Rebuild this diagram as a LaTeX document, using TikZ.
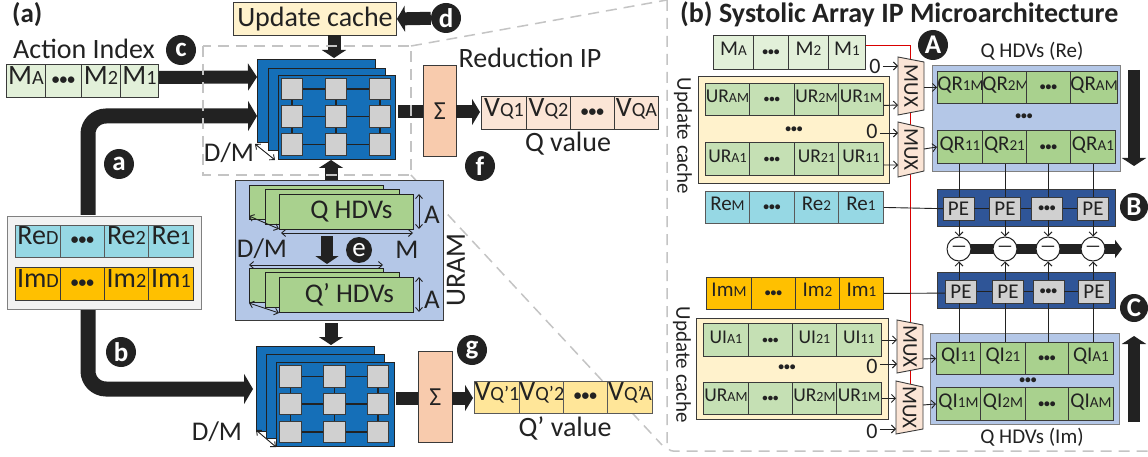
\documentclass[tikz,border=0pt]{standalone}
\usepackage{fontspec}
\usepackage{graphicx}
\setmainfont{Carlito}
\usetikzlibrary{arrows.meta,calc}
\definecolor{ink}{HTML}{222222}
\definecolor{edge}{HTML}{3A3A3A}
\definecolor{dashc}{HTML}{C4C4C4}
\definecolor{lgreen}{HTML}{E2F0D9}
\definecolor{mgreen}{HTML}{C5E0B4}
\definecolor{dgreen}{HTML}{A9D18E}
\definecolor{cream}{HTML}{FFF2CC}
\definecolor{peach}{HTML}{F8CBAD}
\definecolor{lpeach}{HTML}{FBE5D6}
\definecolor{cyanc}{HTML}{96D8E4}
\definecolor{amber}{HTML}{FFC000}
\definecolor{gold}{HTML}{FFE699}
\definecolor{periw}{HTML}{B4C7E7}
\definecolor{saablue}{HTML}{156FB8}
\definecolor{navy}{HTML}{2F5597}
\definecolor{pegray}{HTML}{D0D0D0}
\newcommand\sm[1]{\scalebox{0.72}{#1}}
\newcommand\fs[1]{\fontsize{#1}{#1}\selectfont}
\newcommand\dts{\scalebox{0.55}{\textbf{•••}}}
\tikzset{
  x=1pt,y=-1pt,
  cell/.style={draw=edge,line width=0.9,inner sep=0pt,text=ink,anchor=north west,text height=0.62em,text depth=0pt},
  big/.style={cell,font=\fs{28}},
  small/.style={cell,font=\fs{21}},
  updrow/.style={cell,font=\fs{19.5},fill=mgreen},
  plain/.style={inner sep=0pt,text=ink},
  badge/.style={circle,fill=ink,text=white,inner sep=0pt,minimum size=30,font=\fs{27}\bfseries},
  fat/.style={draw=ink,line width=13,-{Triangle[length=9pt,width=27pt]}},
  wide/.style={draw=ink,line width=15,rounded corners=18,-{Triangle[length=9pt,width=30pt]}},
  link/.style={draw=ink,line width=0.9},
  thin/.style={link,-{Straight Barb[length=4pt,width=8pt]}},
  both/.style={link,{Straight Barb[length=4pt,width=7pt]}-{Straight Barb[length=4pt,width=7pt]}},
  zoomline/.style={draw=dashc,line width=1.5,dash pattern=on 11pt off 7pt},
  pebox/.style={draw=edge,line width=0.9,fill=pegray,inner sep=0pt,text=ink,font=\fs{21},minimum width=31,minimum height=23},
  sq/.style={draw=edge,line width=0.9,fill=pegray,inner sep=0pt,minimum size=21.5},
  saa/.style={draw=ink,line width=0.9,fill=saablue},
  hdv/.style={draw=ink,line width=0.9,fill=dgreen},
  muxs/.style={draw=edge,line width=0.9,fill=lpeach},
  minusc/.style={circle,draw=ink,line width=1,fill=white,minimum size=24,inner sep=0pt,font=\fs{17}},
}
\newcommand\cellrow[5]{%
  \foreach \xa/\xb/\txt [count=\ci] in {#5}{%
    \node[#4,minimum width={\xb-\xa},minimum height={#3-#2}] (#1\ci) at (\xa,#2) {\txt};
  }%
}
% prefix, three x centres, three y centres
\newcommand\sqgrid[7]{%
  \foreach \yy [count=\r] in {#5,#6,#7}{%
    \foreach \xx [count=\c] in {#2,#3,#4}{%
      \node[sq] (#1\r\c) at (\xx,\yy) {};
    }%
  }%
  \foreach \r in {1,2,3}{%
    \draw[link,line width=1.2] (#1\r1) -- (#1\r2) -- (#1\r3);
  }%
  \foreach \c in {1,2,3}{%
    \draw[link,line width=1.2] (#11\c) -- (#12\c) -- (#13\c);
  }%
}
\newcommand\muxpoly[7]{%
  \draw[muxs] (#2,#3) -- (#4,#5) -- (#4,#6) -- (#2,#7) -- cycle;
  \node[plain,rotate=-90,font=\fs{21}] (#1) at ({(#2+#4)/2},{(#3+#7)/2}) {MUX};
  \coordinate (#1w) at (#2,0);
  \coordinate (#1e) at (#4,0);
}
\begin{document}
\begin{tikzpicture}
\useasboundingbox (0,0) rectangle (1148,457);
\fill[white] (0,0) rectangle (1148,457);

% ---------- zoom lines and panel (b) frame
\draw[zoomline] (411,46) -- (667,0);
\draw[zoomline] (411,175) -- (662,445);
\draw[zoomline,rounded corners=6] (667,0) -- (667,451) -- (1148,451);

% ---------- panel titles
\node[plain,anchor=west,font=\fs{27}\bfseries] (ta) at (12,15) {(a)};
\node[plain,anchor=west,font=\fs{28}\bfseries] (tb) at (680,14) {(b) Systolic Array IP Microarchitecture};

% ---------- panel (a): inputs
\node[plain,font=\fs{28}] (actlab) at (84,49) {Action Index};
\cellrow{mm}{64}{97}{big,fill=lgreen}{6/45/M\sm{A},45/81/\dts,81/120/M\sm{2},120/158/M\sm{1}}
\node[draw=gray,line width=1,fill=black!5,minimum width=194,minimum height=93,inner sep=0,anchor=north west] (data) at (7,216) {};
\cellrow{re}{225}{257}{big,fill=cyanc,draw=gray!70!black}{15/60/Re\sm{D},60/104/\dts,104/148/Re\sm{2},148/193/Re\sm{1}}
\cellrow{im}{267}{300}{big,fill=amber}{15/60/Im\sm{D},60/104/\dts,104/148/Im\sm{2},148/193/Im\sm{1}}

% ---------- panel (a): top cache
\node[draw=edge,line width=0.9,fill=cream,minimum width=163,minimum height=33,inner sep=0,anchor=north west,font=\fs{28},text=ink] (ucache) at (233,2) {Update cache};
\node[badge] (bd) at (446,18) {d};
\node[badge] (bc) at (181,50) {c};
\node[badge] (ba) at (119,164) {a};
\node[badge] (bb) at (121,352) {b};
\node[badge] (bf) at (480,166) {f};
\node[badge] (bg) at (472,350) {g};

% ---------- reduction boxes
\node[draw=edge,line width=0.9,fill=peach,minimum width=33,minimum height=91,inner sep=0,anchor=north west,font=\fs{26},text=ink] (sig1) at (423,65) {Σ};
\node[draw=edge,line width=0.9,fill=peach,minimum width=34,minimum height=91,inner sep=0,anchor=north west,font=\fs{26},text=ink] (sig2) at (418,351) {Σ};
\node[plain,font=\fs{28}] (redlab) at (530,58) {Reduction IP};
\cellrow{vq}{96}{129}{big,fill=lpeach}{481/526/V\sm{Q1},526/570/V\sm{Q2},570/614/\dts,614/658/V\sm{QA}}
\node[plain,font=\fs{28}] (qvlab) at (568,144) {Q value};
\cellrow{vp}{381}{413}{big,fill=gold,draw=gray!70!black}{474/519/V\sm{Q’1},519/563/V\sm{Q’2},563/607/\dts,607/652/V\sm{Q’A}}
\node[plain,font=\fs{28}] (qplab) at (565,428) {Q’ value};

% ---------- URAM
\node[draw=edge,line width=0.9,fill=periw,minimum width=208,minimum height=140,inner sep=0,anchor=north west] (uram) at (235,180) {};
\draw[hdv] (249,185) rectangle (383,219);
\draw[hdv] (265,189) rectangle (399,224);
\node[hdv,minimum width=134,minimum height=35,inner sep=0,anchor=north west,font=\fs{27},text=ink] (qh) at (279,194) {\hspace*{10pt}Q HDVs};
\draw[hdv] (249,268) rectangle (383,302);
\draw[hdv] (265,272) rectangle (399,307);
\node[hdv,minimum width=134,minimum height=35,inner sep=0,anchor=north west,font=\fs{27},text=ink] (qph) at (279,277) {\hspace*{6pt}Q’ HDVs};
\node[plain,font=\fs{27}] (a1) at (432,215) {A};
\node[plain,font=\fs{27}] (a2) at (432,300) {A};
\node[plain,font=\fs{27}] (dm1) at (262,249) {D/M};
\node[plain,font=\fs{27}] (mlab) at (407,250) {M};
\node[badge,minimum size=26,font=\fs{27}] (be) at (359,250) {e};
\node[plain,rotate=90,font=\fs{28}] (uramlab) at (456,270) {URAM};
\draw[both] (419,194) -- (419,229);
\draw[both] (419,277) -- (419,312);
\draw[both] (281,233) -- (413,233);
\draw[both] (249,265) -- (383,265);
\coordinate (d1a) at (249,216); \coordinate (d1b) at (279,229);
\coordinate (d2a) at (249,303); \coordinate (d2b) at (279,313);
\draw[both] (d1a) -- (d1b);
\draw[both] (d2a) -- (d2b);
\draw[fat,line width=12,-{Triangle[length=8pt,width=23pt]}] (327,236) -- (327,264);

% ---------- big arrows of panel (a)
\draw[fat] (mm4.east) ++(0,-3.5) -- (257,77);
\draw[wide] (88,215) -- (88,116) -- (257,116);
\draw[wide] (88,310) -- (88,389) -- (253,389);
\draw[fat,-{Triangle[length=8pt,width=24pt]}] (334,35) -- (334,58);
\draw[fat,-{Triangle[length=8pt,width=24pt]}] (331,180) -- (331,160);
\draw[fat,-{Triangle[length=8pt,width=24pt]}] (331,323) -- (331,345);
\draw[fat,-{Triangle[length=8pt,width=26pt]}] (bd) -- (ucache.east);
\draw[fat,-] (398,112) -- (423,112);
\draw[fat,-{Triangle[length=8pt,width=26pt]}] (456,112) -- (480,112);
\draw[fat,-] (396,398) -- (418,398);
\draw[fat,-{Triangle[length=8pt,width=26pt]}] (452,398) -- (473,398);

% ---------- dashed focus box
\draw[zoomline] (203,46) rectangle (411,175);

% ---------- systolic stacks
\draw[saa] (257,59) rectangle (375,142);
\draw[saa] (268,68) rectangle (385,150);
\draw[saa] (278,75) rectangle (395,159);
\sqgrid{p}{292}{336}{380}{89}{116.5}{144.5}
\node[plain,font=\fs{27}] (dmt) at (229,153) {D/M};
\coordinate (d3a) at (255,144); \coordinate (d3b) at (275,160);
\draw[both] (d3a) -- (d3b);

\draw[saa] (256,346) rectangle (374,431);
\draw[saa] (266,354) rectangle (384,438);
\draw[saa] (276,362) rectangle (394,446);
\sqgrid{s}{290.5}{334.5}{378}{376.5}{404}{432}
\node[plain,font=\fs{27}] (dmb) at (217,432) {D/M};
\coordinate (d4a) at (256,430); \coordinate (d4b) at (276,447);
\draw[both] (d4a) -- (d4b);

% ---------- panel (b): left
\draw[draw=edge,line width=0.9,fill=cream] (698,76) rectangle (889,183);
\draw[draw=edge,line width=0.9,fill=cream] (696,318) rectangle (888,419);
\node[plain,rotate=-90,font=\fs{21}] (uc1) at (683,136) {Update cache};
\node[plain,rotate=-90,font=\fs{21}] (uc2) at (682,365) {Update cache};
\cellrow{mb}{35}{69}{small,fill=lgreen}{713/753/M\sm{A},753/788/\dts,788/828/M\sm{2},828/865/M\sm{1}}
\cellrow{ura}{83}{115}{updrow}{705/749/UR\sm{AM},749/794/\dts,794/838/UR\sm{2M},838/883/UR\sm{1M}}
\cellrow{urb}{142}{175}{updrow}{705/749/UR\sm{A1},749/794/\dts,794/838/UR\sm{21},838/883/UR\sm{11}}
\cellrow{rb}{191}{223}{small,fill=cyanc,draw=gray!70!black}{705/749/Re\sm{M},749/794/\dts,794/838/Re\sm{2},838/883/Re\sm{1}}
\cellrow{ib}{277}{309}{small,fill=amber}{706/751/Im\sm{M},751/795/\dts,795/839/Im\sm{2},839/883/Im\sm{1}}
\cellrow{uia}{323}{356}{updrow}{703/748/UI\sm{A1},748/792/\dts,792/836/UI\sm{21},836/881/UI\sm{11}}
\cellrow{uib}{382}{414}{updrow}{703/748/UR\sm{AM},748/792/\dts,792/836/UR\sm{2M},836/881/UR\sm{1M}}
\node[plain,font=\fs{21}] (ud1) at (794,130) {\dts};
\node[plain,font=\fs{21}] (ud2) at (787,368) {\dts};

% red select line
\draw[red!85!black,line width=1] (mb4.east |- 0,46) -- (910,46) -- (910,385);

% PE bands
\node[draw=edge,line width=0.9,fill=navy,minimum width=178,minimum height=37,inner sep=0,anchor=north west] (band1) at (937,189) {};
\node[draw=edge,line width=0.9,fill=navy,minimum width=178,minimum height=36,inner sep=0,anchor=north west] (band2) at (937,272) {};
\draw[link] (rb4.east) -- (958,209);
\draw[link] (ib4.east) -- (961,293);
\node[pebox] (pa1) at (958.5,208.5) {PE};
\node[pebox] (pa2) at (1005,208.5) {PE};
\node[pebox] (pa3) at (1047,208.5) {\dts};
\node[pebox] (pa4) at (1093,208.5) {PE};
\node[pebox] (pb1) at (961,291.5) {PE};
\node[pebox] (pb2) at (1008,291.5) {PE};
\node[pebox] (pb3) at (1048.5,291.5) {\dts};
\node[pebox] (pb4) at (1094,291.5) {PE};
\draw[link] (pa1) -- (pa2) -- (pa3) -- (pa4);
\draw[link] (pb1) -- (pb2) -- (pb3) -- (pb4);

% MUXes
\muxpoly{mxa}{898}{57}{924}{62}{110}{115}
\muxpoly{mxb}{898}{122}{924}{128}{171}{177}
\muxpoly{mxc}{897}{320}{923}{325}{368}{373}
\muxpoly{mxd}{896}{381}{923}{387}{429}{434}

% QR / QI panels
\node[draw=gray,line width=1,fill=periw,minimum width=188,minimum height=106,inner sep=0,anchor=north west] (qrp) at (932,65) {};
\node[draw=gray,line width=1,fill=periw,minimum width=189,minimum height=91,inner sep=0,anchor=north west] (qip) at (930,333) {};
\cellrow{qra}{71}{103}{small,fill=dgreen}{937/982/QR\sm{1M},982/1026/QR\sm{2M},1026/1070/\dts,1070/1115/QR\sm{AM}}
\cellrow{qrb}{130}{163}{small,fill=dgreen}{937/982/QR\sm{11},982/1026/QR\sm{21},1026/1070/\dts,1070/1115/QR\sm{A1}}
\cellrow{qia}{342}{374}{small,fill=dgreen}{936/980/QI\sm{11},980/1025/QI\sm{21},1025/1068/\dts,1068/1113/QI\sm{A1}}
\cellrow{qib}{387}{420}{small,fill=dgreen}{936/980/QI\sm{1M},980/1025/QI\sm{2M},1025/1068/\dts,1068/1113/QI\sm{AM}}
\node[plain,font=\fs{21}] (qd1) at (1024,117) {\dts};
\node[plain,font=\fs{21}] (qd2) at (1028,381) {\dts};
\node[plain,font=\fs{21}] (qhre) at (1032,51) {Q HDVs (Re)};
\node[plain,font=\fs{21}] (qhim) at (1032,437) {Q HDVs (Im)};

% zero labels and MUX inputs / outputs
\node[plain,font=\fs{22}] (z1) at (875,66) {0};
\node[plain,font=\fs{22}] (z2) at (872,131) {0};
\node[plain,font=\fs{22}] (z3) at (872,366) {0};
\node[plain,font=\fs{22}] (z4) at (872,431) {0};
\draw[thin] (z1.east) ++(2,0) -- (mxaw |- z1.east);
\draw[thin] (z2.east) ++(2,2) -- (mxbw |- 0,133);
\draw[thin] (z3.east) ++(2,-2) -- (mxcw |- 0,364);
\draw[thin] (z4.east) ++(2,-2) -- (mxdw |- 0,429);
\draw[thin] ([yshift=-6]ura4.east) -- (mxaw |- 0,105);
\draw[thin] ([yshift=-6]urb4.east) -- (mxbw |- 0,165);
\draw[thin] (uia4.east) -- (mxcw |- uia4.east);
\draw[thin] (uib4.east) -- (mxdw |- uib4.east);
\draw[thin] (mxae |- qra1.west) -- (qra1.west);
\draw[thin] (mxbe |- 0,149) -- (qrb1.west);
\draw[thin] (mxce |- 0,359) -- (qia1.west);
\draw[thin] (mxde |- 0,405) -- (qib1.west);

% subtractors
\coordinate (outstart) at (959,249);
\coordinate (outend) at (1122,249);
\draw[draw=ink,line width=10,-{Triangle[length=7pt,width=18pt]}] (outstart) -- (outend);
\node[minusc] (mi1) at (959,249) {—};
\node[minusc] (mi2) at (1005,249) {—};
\node[minusc] (mi3) at (1048,249) {—};
\node[minusc] (mi4) at (1093,249) {—};
\foreach \n in {1,2,3,4}{
  \draw[link] (mi\n.north |- pa\n.north) -- (mi\n.north |- qrb1.south);
  \draw[thin] (mi\n.north |- pa\n.south) -- (mi\n.north);
  \draw[thin] (mi\n.south |- pb\n.north) -- (mi\n.south);
  \draw[link] (mi\n.south |- pb\n.south) -- (mi\n.south |- qia1.north);
}

% big side arrows and badges
\draw[fat,line width=12,-{Triangle[length=8pt,width=24pt]}] (1134,70) -- (1134,166);
\draw[fat,line width=12,-{Triangle[length=8pt,width=24pt]}] (1134,422) -- (1134,336);
\node[badge] (bA) at (933,45) {A};
\node[badge,minimum size=28] (bB) at (1134,207) {B};
\node[badge,minimum size=28] (bC) at (1134,308) {C};
\end{tikzpicture}
\end{document}
